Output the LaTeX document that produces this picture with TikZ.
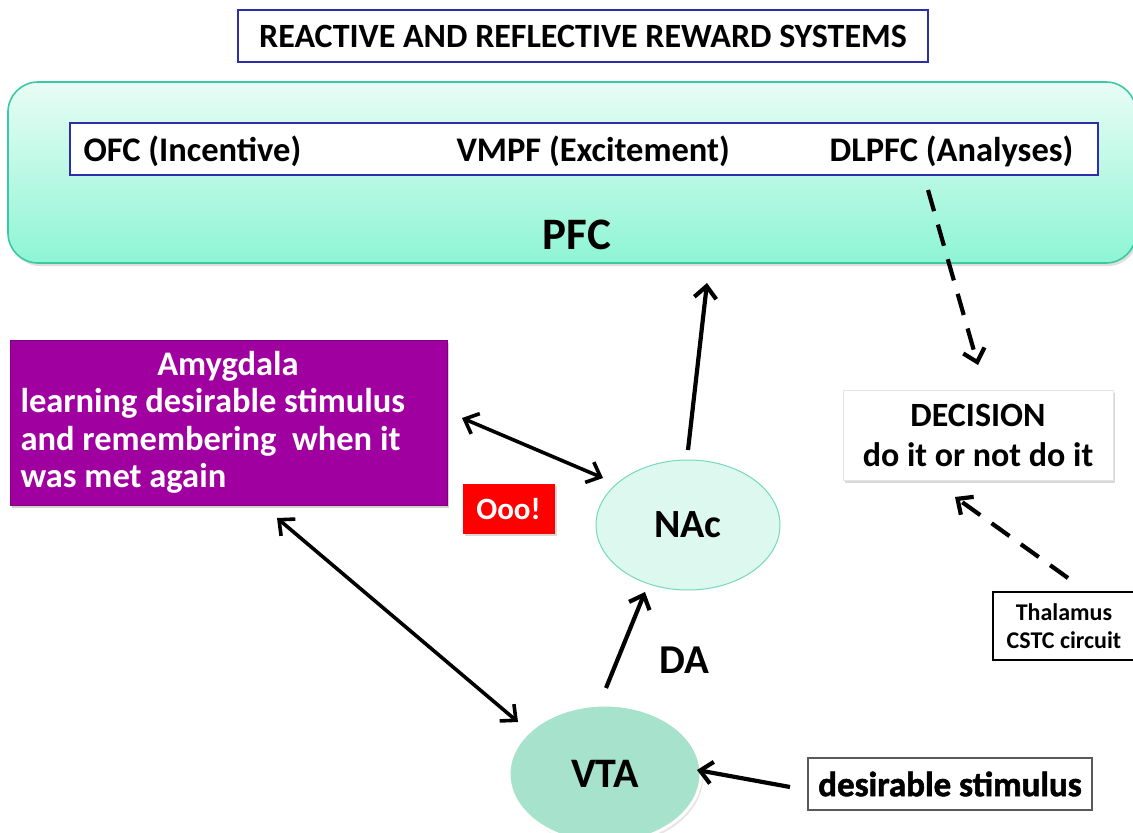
\documentclass[tikz,border=0pt]{standalone}
\usepackage{fontspec}
\setmainfont{Carlito}
\newfontfamily\heavyfont[BoldFeatures={FakeBold=1.6}]{Carlito}
\usetikzlibrary{arrows.meta,shadows,shapes.geometric}
\definecolor{tblue}{HTML}{2E2EA8}
\definecolor{pfctop}{HTML}{E8FCF5}
\definecolor{pfcbot}{HTML}{8EF5D4}
\definecolor{pfcline}{HTML}{3CC8A2}
\definecolor{amyg}{HTML}{A000A0}
\definecolor{nacfill}{HTML}{DDF8EF}
\definecolor{vtafill}{HTML}{A6E2CC}
\tikzset{
  fs/.style={font=\fontsize{#1}{#1}\selectfont\bfseries},
  bluebox/.style={draw=tblue, line width=2pt, fill=white},
  varr/.style={-{Straight Barb[length=12pt,width=22pt]}, line width=4.2pt},
  vdarr/.style={{Straight Barb[length=12pt,width=22pt]}-{Straight Barb[length=12pt,width=22pt]}, line width=3.6pt},
  dsh/.style={dash pattern=on 22pt off 14pt},
}
\begin{document}
\begin{tikzpicture}[x=1pt,y=-1pt]
\useasboundingbox[fill=white] (0,0) rectangle (1133,833);
% title
\node[bluebox, minimum width=690pt, minimum height=52pt, fs=34] (title) at (583,36) {REACTIVE AND REFLECTIVE REWARD SYSTEMS};
% PFC
\node[draw=pfcline, line width=1.6pt, rounded corners=30pt, top color=pfctop, bottom color=pfcbot,
  minimum width=1128pt, minimum height=181pt, drop shadow={opacity=0.25,shadow xshift=2pt,shadow yshift=-3pt}] (pfc) at (572,172.5) {};
\node[bluebox, minimum width=1028pt, minimum height=52pt] (inner) at (584,149) {};
\node[fs=34.5, anchor=west] (ofc) at (80,151) {OFC (Incentive)};
\node[fs=34.5, anchor=west] (vmpf) at (453,151) {VMPF (Excitement)};
\node[fs=34.5, anchor=west] (dlpfc) at (826,151) {DLPFC (Analyses)};
\node[fs=45] (pfclabel) at (577,235) {PFC};
% Amygdala
\node[fill=amyg, draw=amyg!80!black, line width=0.5pt, minimum width=437pt, minimum height=165pt,
  drop shadow={opacity=0.35,shadow xshift=2pt,shadow yshift=-3pt}] (amy) at (228.5,422.5) {};
\node[fs=34.5, text=white] (amyt) at (228,366) {Amygdala};
\node[fs=34.5, text=white, anchor=west, align=left] (amyl) at (17,441) {learning desirable stimulus\\[3pt]and remembering\ \ when it\\[3pt]was met again};
% Ooo
\node[fill=red, fs=31, text=white, minimum width=92pt, minimum height=50pt,
  drop shadow={opacity=0.3,shadow xshift=2pt,shadow yshift=-2pt}] (ooo) at (508.5,509) {Ooo!};
% NAc
\node[ellipse, draw=pfcline!70, line width=1pt, fill=nacfill, minimum width=184pt, minimum height=130pt, fs=40] (nac) at (688,525) {NAc};
% VTA
\node[ellipse, draw=white, line width=3pt, fill=vtafill, minimum width=192pt, minimum height=138pt, fs=42,
  drop shadow={opacity=0.2,shadow xshift=2pt,shadow yshift=-3pt}] (vta) at (605,774) {VTA};
% DECISION
\node[fill=white, draw=gray!20, minimum width=270pt, minimum height=90pt, align=center, fs=34,
  drop shadow={opacity=0.3,shadow xshift=2pt,shadow yshift=-3pt}] (dec) at (978,435) {DECISION\\[6pt] do it or not do it};
% Thalamus
\node[draw=black, line width=2pt, fill=white, minimum width=142pt, minimum height=68pt, align=center, fs=24] (thal) at (1064,626) {Thalamus\\[4pt]CSTC circuit};
% desirable stimulus
\node[draw=gray!70!black, line width=2pt, fill=white, minimum width=284pt, minimum height=52pt,
  font=\fontsize{35}{35}\selectfont\heavyfont\bfseries] (stim) at (950,784) {desirable stimulus};
% DA
\node[fs=41] (da) at (684,660) {DA};
% connectors
\coordinate (dstart) at (928,190);
\coordinate (dend) at (978,365);
\draw[varr, dsh] (dstart) -- (dend);
\coordinate (tstart) at (1068,578);
\coordinate (tend) at (955,497);
\draw[varr, dsh] (tstart) -- (tend);
\coordinate (nacTop) at (688,450);
\coordinate (pfcIn) at (707,283);
\draw[varr] (nacTop) -- (pfcIn);
\coordinate (a1) at (462,418);
\coordinate (n1) at (603,478);
\draw[vdarr] (a1) -- (n1);
\coordinate (a2) at (277,518);
\coordinate (v2) at (518,722);
\draw[vdarr] (a2) -- (v2);
\coordinate (v3) at (606,688);
\coordinate (n3) at (645,592);
\draw[varr] (v3) -- (n3);
\coordinate (s4) at (790,787);
\coordinate (v4) at (697,770);
\draw[varr] (s4) -- (v4);
\end{tikzpicture}
\end{document}
